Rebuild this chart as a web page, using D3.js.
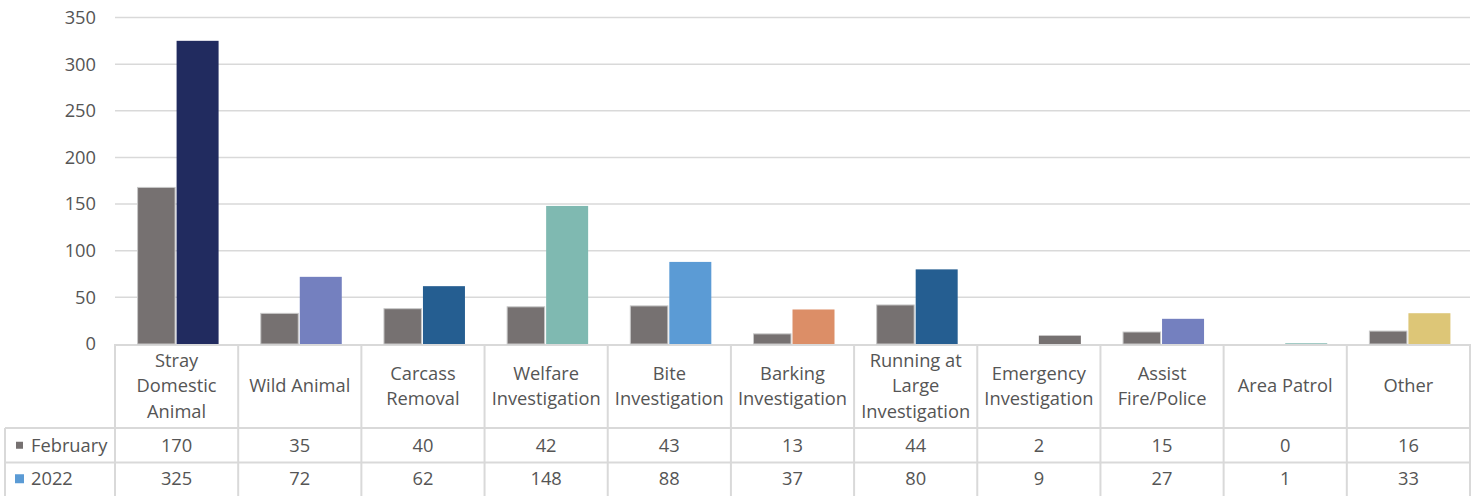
<!DOCTYPE html>
<html><head><meta charset="utf-8">
<script src="https://cdn.jsdelivr.net/npm/d3@7/dist/d3.min.js"></script>
<style>body{margin:0;background:#fff;} svg{display:block;}</style>
</head><body><svg id="c" width="1478" height="496"></svg>
<script>
const categories = [["Stray","Domestic","Animal"],["Wild Animal"],["Carcass","Removal"],["Welfare","Investigation"],["Bite","Investigation"],["Barking","Investigation"],["Running at","Large","Investigation"],["Emergency","Investigation"],["Assist","Fire/Police"],["Area Patrol"],["Other"]];
const february = [170,35,40,42,43,13,44,2,15,0,16];
const y2022 = [325,72,62,148,88,37,80,9,27,1,33];
const colors2022 = ["#212B5F","#7480BF","#255E91","#7FB9B1","#5B9BD5","#DC8E67","#255E91","#767171","#7480BF","#9CC8C1","#DDC677"];
const yTicks = [0,50,100,150,200,250,300,350];
const seriesNames = ["February","2022"];

(function(){
const svg = d3.select("#c");
const font = "'Open Sans', sans-serif";
const txt = "#555555", grid = "#D9D9D9";
const pLeft = 115, pRight = 1470, pTop = 17.5, base = 344;
const x = d3.scaleBand().domain(d3.range(categories.length)).range([pLeft,pRight]);
const y = d3.scaleLinear().domain([0,350]).range([base,pTop]);
const barW = 42;
const fs = 18.3, lh = 25.5;

svg.append("g").selectAll("line").data(yTicks.filter(d=>d>0)).join("line")
  .attr("x1",pLeft).attr("x2",pRight).attr("y1",d=>y(d)).attr("y2",d=>y(d))
  .attr("stroke",grid).attr("stroke-width",1.5);
const ya = svg.append("g").attr("transform",`translate(${pLeft},0)`)
  .call(d3.axisLeft(y).tickValues(yTicks).tickSize(0).tickPadding(19));
ya.select(".domain").remove();
ya.selectAll("text").attr("font-family",font).attr("font-size",fs).attr("fill",txt);

const rowA = 428, rowB = 462.5, bottom = 497, tl = 5;
const tg = svg.append("g").attr("stroke",grid).attr("stroke-width",2);
tg.append("line").attr("x1",pLeft).attr("x2",pRight).attr("y1",base+1).attr("y2",base+1);
[rowA,rowB].forEach(yy=>tg.append("line").attr("x1",tl).attr("x2",pRight).attr("y1",yy).attr("y2",yy));
tg.append("line").attr("x1",tl).attr("x2",tl).attr("y1",rowA).attr("y2",bottom);
d3.range(categories.length+1).forEach(i=>{
  const xx = i<categories.length ? x(i) : pRight;
  tg.append("line").attr("x1",xx).attr("x2",xx).attr("y1",base).attr("y2",bottom);
});

const g = svg.append("g");
categories.forEach((c,i)=>{
  const cx = x(i) + x.bandwidth()/2;
  const fv = february[i];
  if (fv>0) g.append("rect").attr("x",cx-barW+3).attr("width",barW-4.5)
    .attr("y",y(fv)+2).attr("height",Math.max(0,base-y(fv)-2))
    .attr("fill","#767171").attr("stroke","#C8C8C8").attr("stroke-width",1);
  const v = y2022[i];
  g.append("rect").attr("x",cx).attr("width",barW)
    .attr("y",y(v)).attr("height",base-y(v)).attr("fill",colors2022[i]);
});

categories.forEach((c,i)=>{
  const cx = x(i) + x.bandwidth()/2;
  const mid = (base+rowA)/2;
  c.forEach((line,j)=>{
    svg.append("text").attr("x",cx).attr("y",mid + (j-(c.length-1)/2)*lh)
      .attr("dy","0.35em").attr("text-anchor","middle").attr("font-family",font)
      .attr("font-size",fs).attr("fill",txt).text(line);
  });
  svg.append("text").attr("x",cx).attr("y",(rowA+rowB)/2).attr("dy","0.35em")
    .attr("text-anchor","middle").attr("font-family",font).attr("font-size",fs).attr("fill",txt).text(february[i]);
  svg.append("text").attr("x",cx).attr("y",(rowB+bottom)/2-1).attr("dy","0.35em")
    .attr("text-anchor","middle").attr("font-family",font).attr("font-size",fs).attr("fill",txt).text(y2022[i]);
});
svg.append("rect").attr("x",16).attr("y",(rowA+rowB)/2-3.5).attr("width",7).attr("height",7).attr("fill","#767171");
svg.append("rect").attr("x",15).attr("y",(rowB+bottom)/2-5.5).attr("width",9).attr("height",9).attr("fill","#5B9BD5");
svg.append("text").attr("x",31).attr("y",(rowA+rowB)/2).attr("dy","0.35em").attr("font-family",font).attr("font-size",fs).attr("fill",txt).text(seriesNames[0]);
svg.append("text").attr("x",31).attr("y",(rowB+bottom)/2-1).attr("dy","0.35em").attr("font-family",font).attr("font-size",fs).attr("fill",txt).text(seriesNames[1]);
})();
</script></body></html>
